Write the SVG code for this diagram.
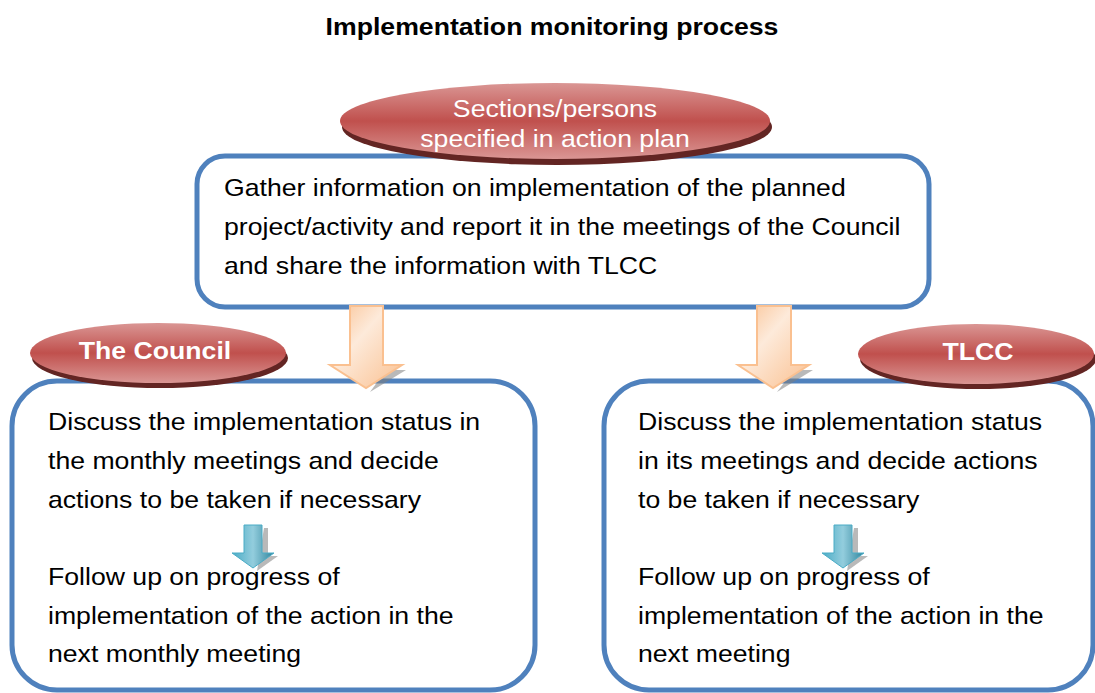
<svg xmlns="http://www.w3.org/2000/svg" width="1095" height="693" viewBox="0 0 1095 693">
<defs>
<linearGradient id="redg" x1="0" y1="0" x2="0" y2="1">
<stop offset="0" stop-color="#DA9694"/>
<stop offset="0.5" stop-color="#C0504D"/>
<stop offset="1" stop-color="#DA9694"/>
</linearGradient>
<linearGradient id="orag" x1="0" y1="0" x2="1" y2="1">
<stop offset="0" stop-color="#FAC090"/>
<stop offset="0.4" stop-color="#FDEADA"/>
<stop offset="1" stop-color="#FAC090"/>
</linearGradient>
<linearGradient id="teag" x1="0" y1="0" x2="1" y2="0">
<stop offset="0" stop-color="#4BACC6"/>
<stop offset="0.5" stop-color="#93CDDD"/>
<stop offset="1" stop-color="#31859C"/>
</linearGradient>
<style>
.box{fill:#fff;stroke:#4F81BD;stroke-width:5}
.t{font-family:"Liberation Sans",Arial,sans-serif;font-size:24px;fill:#000}
.et{font-family:"Liberation Sans",Arial,sans-serif;font-size:24px;fill:#fff;text-anchor:middle}
.b{font-weight:bold}
.sh{fill:#632523}
.el{fill:url(#redg)}
.oa{fill:url(#orag);stroke:#FAC090;stroke-width:2}
.ta{fill:url(#teag);stroke:#4BACC6;stroke-width:1}
.ash{fill:#7F7F7F;opacity:0.55}
</style>
</defs>
<rect width="1095" height="693" fill="#fff"/>
<text transform="matrix(1.11 0 0 1 552 35)" text-anchor="middle" font-family="Liberation Sans,Arial,sans-serif" font-size="24" font-weight="bold">Implementation monitoring process</text>

<g id="top-node">
<rect class="box" x="197" y="156" width="732" height="151" rx="28"/>
<text class="t" transform="matrix(1.11 0 0 1 224 196)">Gather information on implementation of the planned</text>
<text class="t" transform="matrix(1.11 0 0 1 224 235)">project/activity and report it in the meetings of the Council</text>
<text class="t" transform="matrix(1.11 0 0 1 224 274)">and share the information with TLCC</text>
</g>

<g id="left-node">
<rect class="box" x="12" y="381" width="523" height="309" rx="45"/>
<text class="t" transform="matrix(1.11 0 0 1 48 430)">Discuss the implementation status in</text>
<text class="t" transform="matrix(1.11 0 0 1 48 469)">the monthly meetings and decide</text>
<text class="t" transform="matrix(1.11 0 0 1 48 508)">actions to be taken if necessary</text>
<text class="t" transform="matrix(1.11 0 0 1 48 585)">Follow up on progress of</text>
<text class="t" transform="matrix(1.11 0 0 1 48 624)">implementation of the action in the</text>
<text class="t" transform="matrix(1.11 0 0 1 48 662)">next monthly meeting</text>
</g>

<g id="right-node">
<rect class="box" x="604" y="381" width="489" height="309" rx="45"/>
<text class="t" transform="matrix(1.11 0 0 1 638 430)">Discuss the implementation status</text>
<text class="t" transform="matrix(1.11 0 0 1 638 469)">in its meetings and decide actions</text>
<text class="t" transform="matrix(1.11 0 0 1 638 508)">to be taken if necessary</text>
<text class="t" transform="matrix(1.11 0 0 1 638 585)">Follow up on progress of</text>
<text class="t" transform="matrix(1.11 0 0 1 638 624)">implementation of the action in the</text>
<text class="t" transform="matrix(1.11 0 0 1 638 662)">next meeting</text>
</g>

<g id="connectors">
<path class="ash" d="M386,370 H406 L370,392 Z"/>
<path class="oa" d="M350,306 H383 V365 H402 L366,388 L330,365 H350 Z"/>
<path class="ash" d="M794,370 H813 L777,392 Z"/>
<path class="oa" d="M757,306 H791 V365 H809 L773,388 L738,365 H757 Z"/>
<path class="ash" d="M264,528 H268 V556 H278 L257,571 Z"/>
<path class="ta" d="M244,525 H262 V553 H274 L253,568 L232,553 H244 Z"/>
<path class="ash" d="M854,528 H858 V556 H868 L847,571 Z"/>
<path class="ta" d="M834,525 H852 V553 H864 L843,568 L822,553 H834 Z"/>
</g>

<g id="sections-label">
<ellipse class="sh" cx="557" cy="127" rx="215" ry="38"/>
<ellipse class="el" cx="555" cy="121" rx="215" ry="38"/>
<text class="et" transform="matrix(1.11 0 0 1 555 117)">Sections/persons</text>
<text class="et" transform="matrix(1.11 0 0 1 555 147)">specified in action plan</text>
</g>

<g id="council-label">
<ellipse class="sh" cx="160" cy="358" rx="128" ry="30"/>
<ellipse class="el" cx="158" cy="353" rx="128" ry="30"/>
<text class="et b" transform="matrix(1.11 0 0 1 155 359)">The Council</text>
</g>

<g id="tlcc-label">
<ellipse class="sh" cx="978" cy="359" rx="118" ry="30"/>
<ellipse class="el" cx="976" cy="354" rx="118" ry="30"/>
<text class="et b" transform="matrix(1.11 0 0 1 978 360)">TLCC</text>
</g>
</svg>
